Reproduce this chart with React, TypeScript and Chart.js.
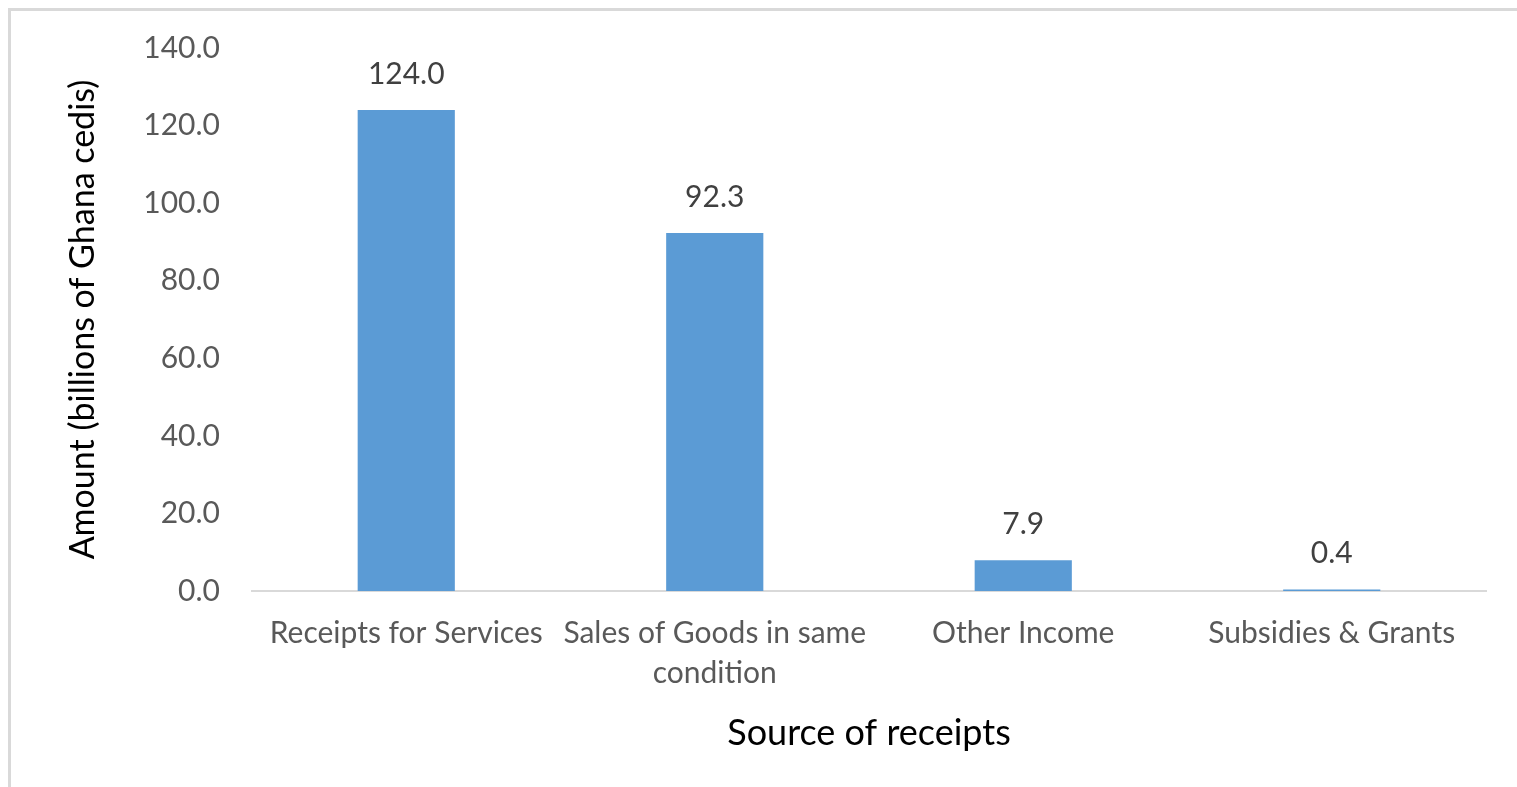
import React, { useEffect, useRef } from "react";
import { Chart, registerables } from "chart.js";

Chart.register(...registerables);

const categories: (string | string[])[] = [
  "Receipts for Services",
  ["Sales of Goods in same", "condition"],
  "Other Income",
  "Subsidies & Grants",
];
const amounts: number[] = [124.0, 92.3, 7.9, 0.4];
const yTitle = "Amount (billions of Ghana cedis)";
const xTitle = "Source of receipts";

const FONT = "Lato, 'Noto Sans', sans-serif";

const valueLabels = {
  id: "valueLabels",
  afterDatasetsDraw(chart: any) {
    const ctx = chart.ctx;
    const meta = chart.getDatasetMeta(0);
    ctx.save();
    ctx.font = `30px ${FONT}`;
    ctx.fillStyle = "#404040";
    ctx.textAlign = "center";
    ctx.textBaseline = "middle";
    meta.data.forEach((bar: any, i: number) => {
      const v = chart.data.datasets[0].data[i] as number;
      ctx.fillText(v.toFixed(1), bar.x, bar.y - 36);
    });
    ctx.restore();
  },
};

export default function App() {
  const ref = useRef<HTMLCanvasElement>(null);
  useEffect(() => {
    if (!ref.current) return;
    const chart = new Chart(ref.current, {
      type: "bar",
      data: {
        labels: categories,
        datasets: [
          {
            data: amounts,
            backgroundColor: "#5b9bd5",
            barPercentage: 0.315,
            categoryPercentage: 1,
          },
        ],
      },
      options: {
        animation: false,
        responsive: false,
        maintainAspectRatio: false,
        layout: { padding: { left: 0, right: 31, top: 37, bottom: 0 } },
        plugins: { legend: { display: false }, tooltip: { enabled: false } },
        scales: {
          x: {
            grid: { display: false, drawTicks: false },
            border: { display: true, color: "#d9d9d9", width: 2 },
            ticks: {
              color: "#595959",
              font: { family: FONT, size: 30, lineHeight: 1.33 },
              padding: 22,
              maxRotation: 0,
              autoSkip: false,
            },
            title: {
              display: true,
              text: xTitle,
              color: "#000000",
              font: { family: FONT, size: 36 },
              padding: { top: 0, bottom: 32 },
            },
            afterFit: (s: any) => {
              s.height = 196;
            },
          },
          y: {
            min: 0,
            max: 140,
            grid: { display: false, drawTicks: true, tickLength: 29 },
            border: { display: false },
            ticks: {
              stepSize: 20,
              color: "#595959",
              font: { family: FONT, size: 30 },
              padding: 3,
              callback: (v: any) => Number(v).toFixed(1),
            },
            title: {
              display: true,
              text: yTitle,
              color: "#000000",
              font: { family: FONT, size: 34 },
              padding: { top: 52, bottom: 0 },
            },
            afterFit: (s: any) => {
              s.width = 241;
            },
          },
        },
      },
      plugins: [valueLabels],
    });
    return () => chart.destroy();
  }, []);

  return (
    <div
      style={{
        position: "fixed",
        left: 8,
        top: 8,
        width: 1509,
        height: 779,
        boxSizing: "border-box",
        borderTop: "3px solid #d9d9d9",
        borderLeft: "3px solid #d9d9d9",
        background: "#fff",
      }}
    >
      <canvas ref={ref} width={1506} height={776} style={{ display: "block" }} />
    </div>
  );
}
